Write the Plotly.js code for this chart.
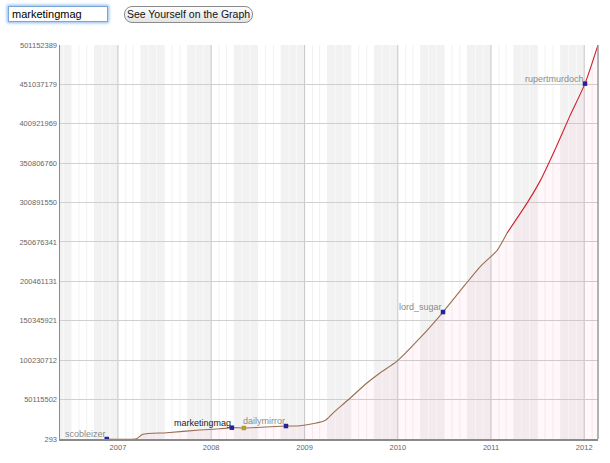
<!DOCTYPE html>
<html>
<head>
<meta charset="utf-8">
<script src="https://cdn.plot.ly/plotly-3.0.1.min.js"></script>
<style>
  html, body { margin: 0; padding: 0; background: #fff; width: 610px; height: 463px; overflow: hidden; }
  #chart { position: absolute; left: 0; top: 0; width: 610px; height: 463px; }
  #userbox { position: absolute; left: 8px; top: 6px; width: 95px; height: 14px; border: 1px solid #7aa7d9;
    box-shadow: 0 0 3px 1px #8db8ea; font: 11px "Liberation Sans", Arial, sans-serif; padding: 0 0 0 3px; line-height: 14px; color: #000; background: #fff; z-index: 5; }
  #btn { position: absolute; left: 124px; top: 6px; width: 127px; height: 15px; border: 1px solid #8a8a8a; border-radius: 8px;
    background: linear-gradient(#fdfdfd, #e4e4e4); font: 10.5px "Liberation Sans", Arial, sans-serif; text-align: center; line-height: 15px; color: #111; z-index: 5; }
</style>
</head>
<body>
<div id="chart"></div>
<div id="userbox">marketingmag</div>
<div id="btn">See Yourself on the Graph</div>
<script>
// ---- data ----
const seriesDates = ['2006-11-18','2007-03-15','2007-04-08','2007-07-11','2007-11-17','2008-02-03','2008-03-22','2008-05-08','2008-10-20','2008-12-14','2009-02-11','2009-03-22','2009-04-22','2009-06-20','2009-09-02','2009-10-23','2009-12-29','2010-03-29','2010-06-27','2010-09-21','2010-11-19','2011-01-25','2011-03-05','2011-05-22','2011-07-12','2011-09-08','2011-11-06','2012-01-04','2012-02-24'];
const seriesValues = [293, 400000, 6000000, 8000000, 11400000, 13000000, 14400000, 14000000, 16500000, 16900000, 20000000, 23500000, 33000000, 49600000, 71200000, 84000000, 99000000, 128500000, 161500000, 196000000, 219000000, 240000000, 262000000, 300000000, 328000000, 367600000, 411000000, 452000000, 501152389];
const splitDate = '2011-03-05';

const userNames = ['scobleizer','marketingmag','dailymirror','lord_sugar','rupertmurdoch'];
const userDates = ['2006-11-18','2008-03-22','2008-10-20','2010-06-27','2012-01-04'];
const userValues = [293, 14400000, 16500000, 161500000, 452000000];
const youDate = ['2008-05-08'];
const youValue = [14000000];

const yTickLabels = ['293','50115502','100230712','150345921','200461131','250676341','300891550','350806760','400921969','451037179','501152389'];
const xTickDates = ['2007-01-01','2008-01-01','2009-01-01','2010-01-01','2011-01-01','2012-01-01'];
const xTickLabels = ['2007','2008','2009','2010','2011','2012'];
const xRange = ['2006-05-19','2012-02-24'];

// ---- build ----
const yTickVals = yTickLabels.map(Number);
const splitIdx = seriesDates.indexOf(splitDate);

const traces = [
  { x: seriesDates, y: seriesValues, type: 'scatter', mode: 'lines', fill: 'tozeroy',
    fillcolor: 'rgba(255,60,110,0.04)', line: { width: 0, color: 'rgba(0,0,0,0)', shape: 'spline', smoothing: 0.6 }, hoverinfo: 'skip' },
  { x: seriesDates.slice(0, splitIdx + 1), y: seriesValues.slice(0, splitIdx + 1), type: 'scatter', mode: 'lines',
    line: { color: '#9a6e50', width: 1.1, shape: 'spline', smoothing: 0.6 } },
  { x: seriesDates.slice(splitIdx), y: seriesValues.slice(splitIdx), type: 'scatter', mode: 'lines',
    line: { color: '#d2202a', width: 1.1, shape: 'spline', smoothing: 0.6 } },
  { x: youDate, y: youValue, type: 'scatter', mode: 'markers',
    marker: { color: '#b0a02a', size: 4.5, symbol: 'square' } },
  { x: userDates, y: userValues, type: 'scatter', mode: 'markers',
    marker: { color: '#23239b', size: 4.5, symbol: 'square' } }
];

// background quarter bands + month lines + year lines
const shapes = [];
for (let yr = 2006; yr <= 2012; yr++) {
  [[4, 7], [10, 13]].forEach(([m0, m1]) => {
    const s = `${yr}-${String(m0).padStart(2, '0')}-01`;
    const e = m1 === 13 ? `${yr + 1}-01-01` : `${yr}-${String(m1).padStart(2, '0')}-01`;
    shapes.push({ type: 'rect', xref: 'x', yref: 'paper', x0: s, x1: e, y0: 0, y1: 1,
      fillcolor: '#f2f2f2', line: { width: 0 }, layer: 'below' });
  });
  for (let m = 2; m <= 12; m++) {
    const shaded = (m >= 5 && m <= 6) || (m >= 11 && m <= 12);
    const d = `${yr}-${String(m).padStart(2, '0')}-01`;
    shapes.push({ type: 'line', xref: 'x', yref: 'paper', x0: d, x1: d, y0: 0, y1: 1,
      line: { color: shaded ? '#f9f9f9' : '#f1f1f1', width: 1 }, layer: 'below' });
  }
}
xTickDates.forEach(d => shapes.push({ type: 'line', xref: 'x', yref: 'paper', x0: d, x1: d, y0: 0, y1: 1,
  line: { color: '#c6c6c6', width: 1 }, layer: 'below' }));
shapes.push({ type: 'line', xref: 'paper', yref: 'paper', x0: 1, x1: 1, y0: 0, y1: 1, line: { color: '#9a9a9a', width: 1.5 } });

const annotations = userNames.map((n, i) => ({
  x: userDates[i], y: userValues[i], xref: 'x', yref: 'y', text: n, showarrow: false,
  xanchor: 'right', yanchor: 'bottom', xshift: 1, yshift: -2,
  font: { family: 'Liberation Sans, Arial, sans-serif', size: 9, color: n === 'marketingmag' ? '#222' : '#8a8a8a' }
}));
annotations.push({ x: '2006-01-01', y: 0, xref: 'x', yref: 'paper', text: '2006', showarrow: false,
  yanchor: 'top', yshift: -3, font: { family: 'Liberation Sans, Arial, sans-serif', size: 7.5, color: '#666' } });

const layout = {
  width: 610, height: 463,
  margin: { l: 60, r: 12, t: 45, b: 24 },
  paper_bgcolor: '#fff', plot_bgcolor: '#fff',
  showlegend: false,
  font: { family: 'Liberation Sans, Arial, sans-serif', size: 7.5, color: '#666' },
  xaxis: { type: 'date', range: xRange, tickvals: xTickDates, ticktext: xTickLabels, showgrid: false,
    zeroline: false, showline: true, linecolor: '#8a8a8a', linewidth: 1.5, ticks: '', fixedrange: true,
    tickfont: { size: 7.5, color: '#666' } },
  yaxis: { range: [yTickVals[0], yTickVals[yTickVals.length - 1]], tickvals: yTickVals, ticktext: yTickLabels,
    showgrid: true, gridcolor: '#d0d0d0', gridwidth: 1, zeroline: false, showline: true, linecolor: '#8a8a8a',
    linewidth: 1.5, ticks: '', fixedrange: true, tickfont: { size: 7.5, color: '#666' } },
  shapes: shapes,
  annotations: annotations
};

Plotly.newPlot('chart', traces, layout, { displayModeBar: false, staticPlot: true });
</script>
</body>
</html>
